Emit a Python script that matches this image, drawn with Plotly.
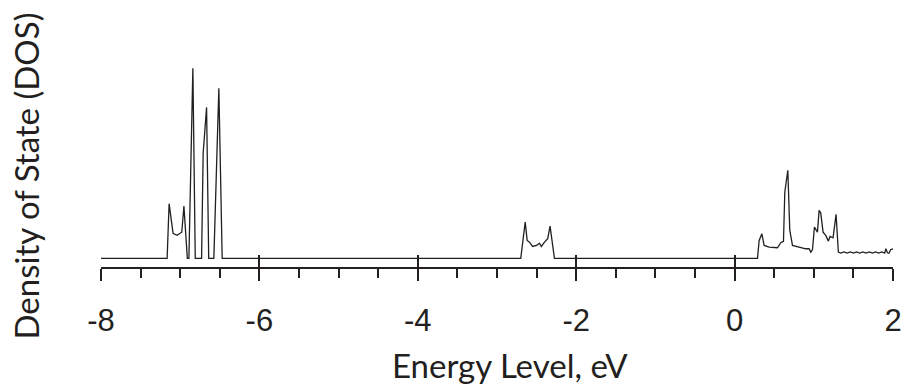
import plotly.graph_objects as go

# Energy (eV) and density of states (arbitrary units)
energy = [
    -8.0, -7.165, -7.14, -7.09, -7.04, -6.98, -6.953, -6.91, -6.89, -6.84, -6.81,
    -6.73, -6.71, -6.667, -6.64, -6.575, -6.512, -6.47,
    -2.70, -2.644, -2.619, -2.59, -2.55, -2.50, -2.464, -2.44, -2.40, -2.36, -2.33, -2.275,
    0.289, 0.310, 0.344, 0.373, 0.436, 0.541, 0.583, 0.617, 0.634, 0.672, 0.697, 0.731,
    0.899, 0.941, 0.962, 0.983, 1.008, 1.046, 1.067, 1.088, 1.117, 1.151, 1.184, 1.205,
    1.243, 1.281, 1.310,
    1.34, 1.38, 1.42, 1.46, 1.50, 1.54, 1.58, 1.62, 1.66, 1.70, 1.74, 1.78, 1.82, 1.86,
    1.895, 1.91, 1.93, 1.95, 1.97, 2.0,
]
dos = [
    0.0, 0.0, 5.45, 2.5, 2.3, 2.6, 5.2, 0.0, 0.0, 18.95, 0.0,
    0.0, 10.5, 15.05, 0.0, 0.0, 16.95, 0.0,
    0.0, 3.61, 1.78, 1.61, 1.18, 1.28, 1.51, 1.18, 1.61, 1.95, 3.21, 0.0,
    0.0, 1.78, 2.45, 1.28, 1.11, 1.05, 1.55, 1.68, 6.61, 8.78, 2.78, 1.28,
    0.95, 0.95, 0.61, 0.85, 3.11, 2.61, 4.78, 4.51, 2.61, 2.28, 1.71, 2.18,
    2.05, 4.38, 0.61,
    0.52, 0.64, 0.52, 0.64, 0.52, 0.64, 0.52, 0.64, 0.52, 0.64, 0.52, 0.64, 0.52, 0.64,
    0.52, 0.95, 0.55, 0.51, 0.85, 0.95,
]

x_tick_vals = [-8, -6, -4, -2, 0, 2]
x_tick_text = ["-8", "-6", "-4", "-2", "0", "2"]
x_title = "Energy Level, eV"
y_title = "Density of State (DOS)"

ink = "#231f20"

fig = go.Figure()
fig.add_trace(go.Scatter(x=energy, y=dos, mode="lines",
                         line=dict(color=ink, width=1.3), showlegend=False,
                         hoverinfo="x+y"))

xr = [-8, 2]
fig.update_layout(
    width=904, height=384,
    margin=dict(l=101, r=11, t=60, b=117, autoexpand=False),
    paper_bgcolor="white", plot_bgcolor="white",
    xaxis=dict(
        range=xr, showgrid=False, zeroline=False, automargin=False,
        showline=True, linecolor=ink, linewidth=1.5,
        tickmode="array", tickvals=x_tick_vals, ticktext=x_tick_text,
        ticks="outside", ticklen=12, tickwidth=1.5, tickcolor=ink,
        ticklabelstandoff=13,
        tickfont=dict(family="Liberation Sans, Arial", size=31, color=ink),
        minor=dict(dtick=0.5, tick0=-8, ticks="outside", ticklen=9,
                   tickwidth=1.5, tickcolor=ink, showgrid=False),
    ),
    xaxis2=dict(
        range=xr, overlaying="x", anchor="y", side="bottom", automargin=False,
        showgrid=False, zeroline=False, showline=False,
        tickmode="array", tickvals=x_tick_vals, showticklabels=False,
        ticks="inside", ticklen=12, tickwidth=1.5, tickcolor=ink,
    ),
    yaxis=dict(range=[-0.87, 19.78], visible=False, automargin=False),
    annotations=[
        dict(text=x_title, xref="paper", yref="paper", x=0.5, y=0,
             xshift=13, yshift=-98, xanchor="center", yanchor="middle",
             showarrow=False,
             font=dict(family="Lato, Open Sans", size=33, color=ink)),
        dict(text=y_title, xref="paper", yref="paper", x=0, y=0.5,
             xshift=-76, yshift=-13, xanchor="center", yanchor="middle",
             textangle=-90, showarrow=False,
             font=dict(family="Lato, Open Sans", size=33, color=ink)),
    ],
)
fig.add_trace(go.Scatter(x=[None], y=[None], xaxis="x2", showlegend=False))

fig.write_html(
    "out.html",
    config={"displayModeBar": False},
    post_script="document.body.style.margin='0';"
                "document.documentElement.style.overflow='hidden';",
)
